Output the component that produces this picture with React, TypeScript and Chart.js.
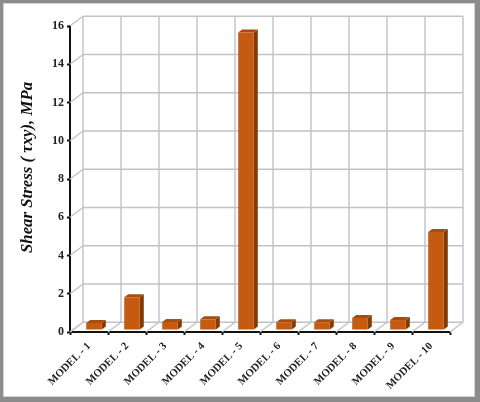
import React, { useEffect, useRef } from "react";
import { Chart, registerables } from "chart.js";

Chart.register(...registerables);

const categories = ["MODEL - 1", "MODEL - 2", "MODEL - 3", "MODEL - 4", "MODEL - 5", "MODEL - 6", "MODEL - 7", "MODEL - 8", "MODEL - 9", "MODEL - 10"];
const shearStress = [0.37, 1.71, 0.42, 0.56, 15.55, 0.4, 0.4, 0.63, 0.52, 5.13];
const yTicks = [0, 2, 4, 6, 8, 10, 12, 14, 16];
const yTitle = "Shear Stress ( τxy), MPa";

const DEPTH_X = 13;
const DEPTH_Y = 9.7;
const BAR_DX = 5;
const BAR_DY = -2;
const BAR_SIDE_X = 4;
const BAR_SIDE_Y = 3;
const GRID = "#c2c2c2";

const wall3d = {
  id: "wall3d",
  beforeDatasetsDraw(chart: any) {
    const { ctx, scales } = chart;
    const x = scales.x, y = scales.y;
    const left = x.left, right = x.right, bottom = y.bottom;
    ctx.save();
    ctx.strokeStyle = GRID;
    ctx.lineWidth = 1.4;
    const line = (a: number, b: number, c: number, d: number) => {
      ctx.beginPath(); ctx.moveTo(a, b); ctx.lineTo(c, d); ctx.stroke();
    };
    yTicks.forEach((v) => {
      const p = y.getPixelForValue(v);
      line(left, p, left + DEPTH_X, p - DEPTH_Y);
      line(left + DEPTH_X, p - DEPTH_Y, right + DEPTH_X, p - DEPTH_Y);
    });
    const step = (right - left) / categories.length;
    for (let i = 0; i <= categories.length; i++) {
      const px = left + i * step;
      line(px, bottom, px + DEPTH_X, bottom - DEPTH_Y);
      line(px + DEPTH_X, bottom - DEPTH_Y, px + DEPTH_X, y.top - DEPTH_Y);
    }
    const meta = chart.getDatasetMeta(0);
    meta.data.forEach((bar: any) => {
      const l = bar.x - bar.width / 2 + BAR_DX;
      const r = bar.x + bar.width / 2 + BAR_DX;
      const t = bar.y + BAR_DY;
      const b = bar.base + BAR_DY;
      ctx.fillStyle = "#7d3d0b";
      ctx.beginPath();
      ctx.moveTo(r, t); ctx.lineTo(r + BAR_SIDE_X, t - BAR_SIDE_Y);
      ctx.lineTo(r + BAR_SIDE_X, b - BAR_SIDE_Y); ctx.lineTo(r, b);
      ctx.closePath(); ctx.fill();
      ctx.fillStyle = "#a94d0e";
      ctx.beginPath();
      ctx.moveTo(l, t); ctx.lineTo(l + BAR_SIDE_X, t - BAR_SIDE_Y);
      ctx.lineTo(r + BAR_SIDE_X, t - BAR_SIDE_Y); ctx.lineTo(r, t);
      ctx.closePath(); ctx.fill();
    });
    ctx.restore();
    ctx.save();
    ctx.translate(BAR_DX, BAR_DY);
  },
  afterDatasetsDraw(chart: any) {
    chart.ctx.restore();
    const { ctx } = chart;
    ctx.save();
    ctx.translate(28, 167.5);
    ctx.rotate(-Math.PI / 2);
    ctx.font = "italic bold 16.8px 'Liberation Serif'";
    ctx.fillStyle = "#111";
    ctx.textAlign = "center";
    ctx.textBaseline = "middle";
    ctx.fillText(yTitle, 0, 0);
    ctx.restore();
  },
};

export default function App() {
  const ref = useRef<HTMLCanvasElement>(null);
  useEffect(() => {
    const chart = new Chart(ref.current!, {
      type: "bar",
      data: {
        labels: categories,
        datasets: [{
          data: shearStress,
          backgroundColor: "#c55a11",
          borderWidth: 0,
          barPercentage: 0.41,
          categoryPercentage: 1,
          clip: false,
        } as any],
      },
      options: {
        animation: false,
        responsive: false,
        layout: { padding: { left: 0, top: 26, right: 30, bottom: 0 } },
        plugins: { legend: { display: false }, tooltip: { enabled: false } },
        scales: {
          x: {
            afterFit(s: any) { s.height = 70; s.paddingLeft = 0; s.paddingRight = 0; },
            grid: { display: true, drawOnChartArea: false, drawTicks: true, tickLength: 3, color: "#111", tickWidth: 2 },
            border: { display: true, color: "#111", width: 2 },
            ticks: {
              maxRotation: 45, minRotation: 45, autoSkip: false, padding: 5, color: "#222",
              font: { family: "'Liberation Serif'", size: 10.8, weight: "bold" },
            },
          },
          y: {
            min: 0, max: 16,
            afterFit(s: any) { s.width = 70; },
            grid: { display: true, drawOnChartArea: false, drawTicks: true, tickLength: 3, color: "#111", tickWidth: 2 },
            border: { display: true, color: "#111", width: 2 },
            ticks: {
              stepSize: 2, padding: 3, color: "#222",
              font: { family: "'Liberation Serif'", size: 12, weight: "bold" },
            },
          },
        },
      } as any,
      plugins: [wall3d],
    });
    return () => chart.destroy();
  }, []);
  return (
    <div style={{ position: "absolute", left: 0, top: 0, width: 480, height: 402, background: "#fff", overflow: "hidden" }}>
      <canvas ref={ref} width={480} height={402} style={{ position: "absolute", left: 0, top: 0, display: "block", filter: "blur(0.45px)" }} />
      <div style={{ position: "absolute", inset: 0, boxSizing: "border-box", pointerEvents: "none", borderStyle: "solid", borderColor: "#8c8c8c", borderWidth: "3px 5px 5px 3px", boxShadow: "inset 1px 1px 1px #d0d0d0, inset -1px -1px 1px #d0d0d0" }} />
    </div>
  );
}
